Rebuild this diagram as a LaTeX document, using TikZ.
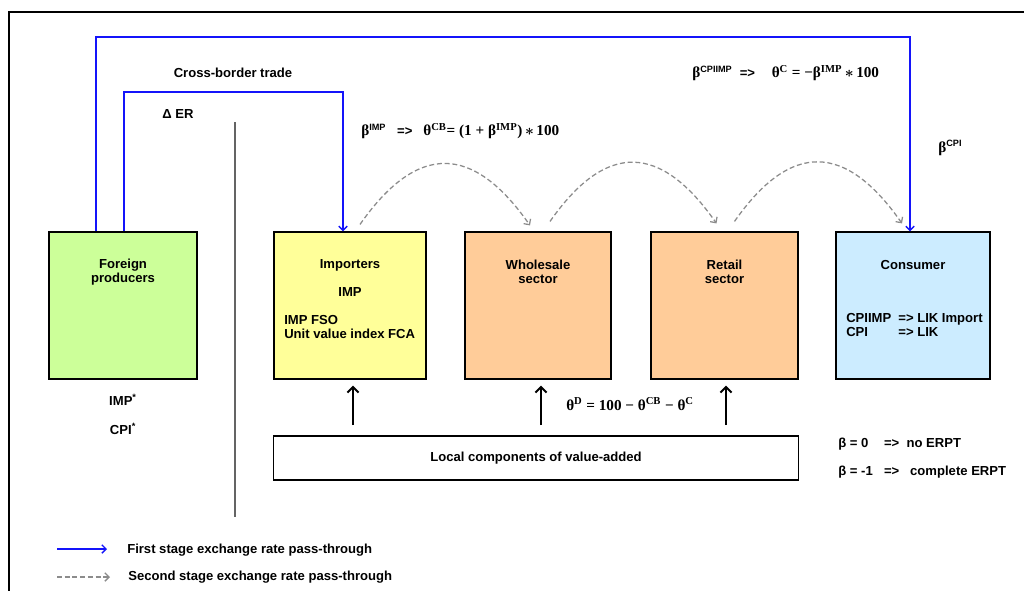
\documentclass[tikz,border=0pt]{standalone}
\usepackage{fontspec}
\setmainfont{Liberation Sans}
\newfontfamily\formfont{Liberation Serif}
\usetikzlibrary{arrows.meta}
\definecolor{LineBlue}{RGB}{20,20,250}
\definecolor{DashGray}{RGB}{140,140,140}
\definecolor{RuleGray}{RGB}{100,100,100}
\definecolor{GreenFill}{RGB}{204,255,153}
\definecolor{YellowFill}{RGB}{255,255,153}
\definecolor{OrangeFill}{RGB}{255,204,153}
\definecolor{BlueFill}{RGB}{204,236,255}

\newcommand{\fm}[1]{{\formfont\fontsize{10.8}{10}\selectfont #1}}
\newcommand{\su}[1]{\textsuperscript{#1}}
\newcommand{\tms}{\,{\boldmath$\ast$}\,}

\tikzset{
  stagebox/.style={draw=black, line width=0.8pt, minimum height=3.675cm, inner sep=0pt},
  lbl/.style={inner sep=0pt, font=\bfseries\fontsize{9.3}{10}\selectfont, align=center},
  firststage/.style={-{Straight Barb[length=3pt, width=6pt]}, draw=LineBlue, line width=1pt},
  secondstage/.style={-{Straight Barb[length=3pt, width=6pt]}, draw=DashGray, dash pattern=on 3.5pt off 2pt, line width=0.9pt},
  valueup/.style={-{Straight Barb[length=4pt, width=8pt]}, draw=black, line width=1.4pt, shorten >=0.15cm},
}

\begin{document}
\begin{tikzpicture}[x=0.025cm, y=-0.025cm]
    \useasboundingbox (0,0) rectangle (1024,591);
    % frame and border
    \draw[black, line width=1pt] (1024,12) -- (9,12) -- (9,591);
    \draw[RuleGray, line width=1.3pt] (235,122) -- (235,517);

    \node[stagebox, fill=GreenFill, minimum width=3.7cm] (foreign) at (123,305.5) {};
    \node[stagebox, fill=YellowFill, minimum width=3.8cm] (importers) at (350,305.5) {};
    \node[stagebox, fill=OrangeFill, minimum width=3.65cm] (wholesale) at (538,305.5) {};
    \node[stagebox, fill=OrangeFill, minimum width=3.675cm] (retail) at (724.5,305.5) {};
    \node[stagebox, fill=BlueFill, minimum width=3.85cm] (consumer) at (913,305.5) {};
    \node[stagebox, fill=white, minimum width=13.1cm, minimum height=1.1cm] (local) at (536,458) {};

    \node[lbl] (foreigntxt) at (123,272) {Foreign\\producers};
    \node[lbl] (importerstxt) at (350,265) {Importers};
    \node[lbl] (imptxt) at (350,292) {IMP};
    \node[lbl, anchor=west, align=left] (fsotxt) at (284,327) {IMP FSO\\Unit value index FCA};
    \node[lbl] (wholesaletxt) at (538,272) {Wholesale\\sector};
    \node[lbl] (retailtxt) at (724.5,272) {Retail\\sector};
    \node[lbl] (consumertxt) at (913,265) {Consumer};
    \node[lbl, anchor=west] (liktxt) at (846,327) {\begin{tabular}{@{}l@{\hspace{5pt}}l@{}}CPIIMP & => LIK Import\\ CPI & => LIK\end{tabular}};
    \node[lbl] (localtxt) at (local) {Local components of value-added};

    \node[lbl] (crosstxt) at (233,73) {Cross-border trade};
    \node[lbl] (ertxt) at (178,114) {Δ ER};
    \node[lbl, anchor=west] (cbtxt) at (361,131) {\fm{β}\su{IMP}\ \ \ =>\ \ \ \fm{θ\su{CB}= (1 + β\su{IMP})\tms 100}};
    \node[lbl, anchor=west] (ctxt) at (692,73) {\fm{β}\su{CPIIMP}\ \ =>\quad\ \fm{θ\su{C} = −β\su{IMP}\tms 100}};
    \node[lbl, anchor=west] (cpitxt) at (938,148) {\fm{β}\su{CPI}};
    \node[lbl] (impstar) at (123,400) {IMP\su{*}};
    \node[lbl] (cpistar) at (123,429) {CPI\su{*}};
    \node[lbl, anchor=west] (dtxt) at (566,404) {\fm{θ\su{D} = 100 − θ\su{CB} − θ\su{C}}};
    \node[lbl, anchor=west] (erpttxt) at (838,458.5) {\begin{tabular}{@{}l@{\hspace{8pt}}l@{}}β = 0 & =>\ \ no ERPT\\[10pt] β = -1 & =>\ \ \ complete ERPT\end{tabular}};

    % first stage
    \coordinate (cb1) at (96,37);
    \coordinate (cb2) at (910,37);
    \coordinate (er1) at (124,92);
    \coordinate (er2) at (343,92);
    \draw[firststage] (foreign.north -| cb1) -- (cb1) -- (cb2) -- (cb2 |- consumer.north);
    \draw[firststage] (foreign.north -| er1) -- (er1) -- (er2) -- (er2 |- importers.north);

    % second stage
    \draw[secondstage] ([shift={(10,-7)}]importers.north) to[out=55, in=125, looseness=1.5] ([shift={(-8,-6)}]wholesale.north);
    \draw[secondstage] ([shift={(12,-10)}]wholesale.north) to[out=55, in=125, looseness=1.5] ([shift={(-8,-8)}]retail.north);
    \draw[secondstage] ([shift={(10,-10)}]retail.north) to[out=55, in=125, looseness=1.5] ([shift={(-11,-8)}]consumer.north);

    % value-added
    \coordinate (up1) at (353,425);
    \coordinate (up2) at (541,425);
    \coordinate (up3) at (726,425);
    \draw[valueup] (up1) -- (up1 |- importers.south);
    \draw[valueup] (up2) -- (up2 |- wholesale.south);
    \draw[valueup] (up3) -- (up3 |- retail.south);

    % legend
    \coordinate (lg1a) at (57,549);
    \coordinate (lg1b) at (107,549);
    \coordinate (lg2a) at (57,577);
    \coordinate (lg2b) at (110,577);
    \draw[firststage] (lg1a) -- (lg1b);
    \draw[secondstage] (lg2a) -- (lg2b);
    \node[lbl, anchor=west] (lg1txt) at (127,550) {First stage exchange rate pass-through};
    \node[lbl, anchor=west] (lg2txt) at (128,577) {Second stage exchange rate pass-through};
\end{tikzpicture}
\end{document}
